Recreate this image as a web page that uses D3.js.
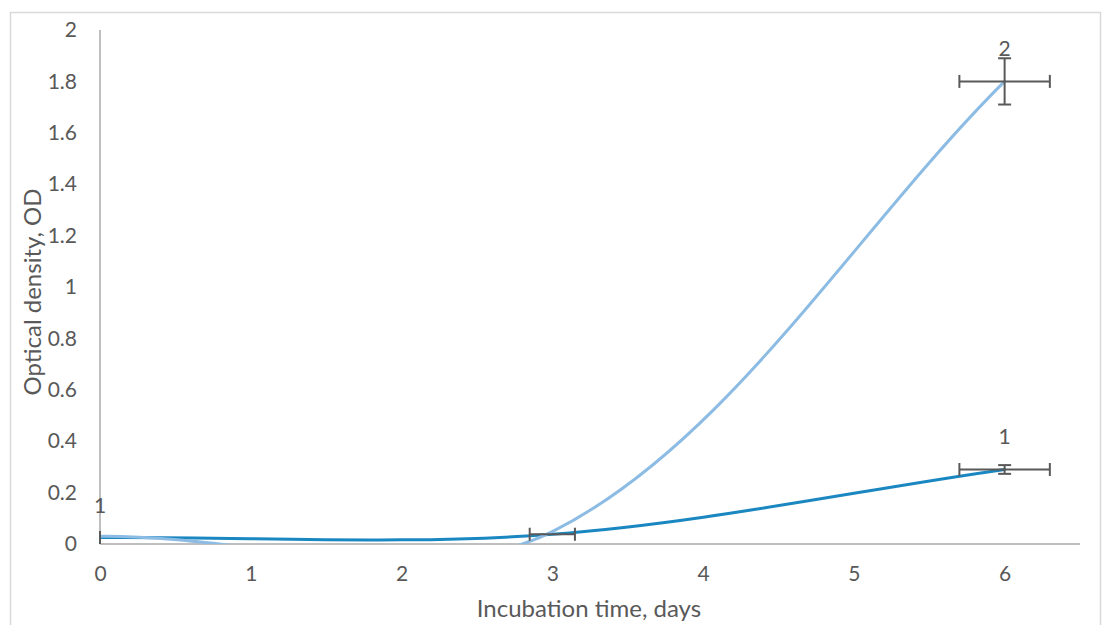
<!DOCTYPE html>
<html>
<head>
<meta charset="utf-8">
<script src="https://cdn.jsdelivr.net/npm/d3@7"></script>
<style>
  html, body { margin: 0; padding: 0; background: #fff; }
  svg { display: block; font-family: Lato, "Open Sans", sans-serif; }
</style>
</head>
<body>
<svg id="chart" width="1102" height="625"></svg>
<script>
// ---- data ----
const days = [0, 3, 6];
const series1 = [0.025, 0.038, 0.29];
const series2 = [0.03, 0.048, 1.8];
const errX1 = [0, 0.15, 0.3];
const errY1 = [null, null, 0.017];
const errX2 = [null, null, 0.3];
const errY2 = [null, null, 0.09];
const labels1 = ["1", null, "1"];
const labels2 = [null, null, "2"];
const xTicks = [0, 1, 2, 3, 4, 5, 6];
const yTicks = [0, 0.2, 0.4, 0.6, 0.8, 1, 1.2, 1.4, 1.6, 1.8, 2];
const xTitle = "Incubation time, days";
const yTitle = "Optical density, OD";

// ---- Excel-like smoothing curve ----
function ExcelSmooth(context) { this._context = context; }
ExcelSmooth.prototype = {
  areaStart() {}, areaEnd() {},
  lineStart() { this._pts = []; },
  point(px, py) { this._pts.push([+px, +py]); },
  lineEnd() {
    const p = this._pts, n = p.length, c = this._context;
    if (!n) return;
    c.moveTo(p[0][0], p[0][1]);
    if (n === 1) return;
    const d = (a, b) => Math.hypot(b[0] - a[0], b[1] - a[1]);
    for (let i = 0; i < n - 1; i++) {
      const p0 = p[Math.max(i - 1, 0)], p1 = p[i], p2 = p[i + 1], p3 = p[Math.min(i + 2, n - 1)];
      const d01 = d(p0, p1), d12 = d(p1, p2), d23 = d(p2, p3);
      const f1 = d12 / (d01 + d12) / 3, f2 = d12 / (d12 + d23) / 3;
      c.bezierCurveTo(
        p1[0] + (p2[0] - p0[0]) * f1, p1[1] + (p2[1] - p0[1]) * f1,
        p2[0] - (p3[0] - p1[0]) * f2, p2[1] - (p3[1] - p1[1]) * f2,
        p2[0], p2[1]);
    }
  }
};
const excelCurve = ctx => new ExcelSmooth(ctx);

// ---- layout ----
const svg = d3.select("#chart");
const plotL = 100, plotR = 1080, plotT = 30, plotB = 544;
const x = d3.scaleLinear().domain([0, 6.5]).range([plotL, plotR]);
const y = d3.scaleLinear().domain([0, 2]).range([plotB, plotT]);

const textColor = "#595959";
const axisColor = "#bfbfbf";
const tickFont = 21;
const titleFont = 24;

// chart border
svg.append("rect")
  .attr("x", 10.5).attr("y", 12.5)
  .attr("width", 1090).attr("height", 640)
  .attr("fill", "none").attr("stroke", "#d9d9d9").attr("stroke-width", 1.5);

svg.append("defs").append("clipPath").attr("id", "plotClip")
  .append("rect").attr("x", plotL).attr("y", plotT - 20)
  .attr("width", plotR - plotL + 10).attr("height", plotB - plotT + 20);

// axes
const xAxis = d3.axisBottom(x).tickValues(xTicks).tickSize(0).tickPadding(22)
  .tickFormat(d3.format("d"));
const gx = svg.append("g").attr("transform", `translate(0,${plotB})`).call(xAxis);
gx.select(".domain").attr("stroke", axisColor).attr("stroke-width", 2)
  .attr("d", `M${plotL},0H${plotR}`);
gx.selectAll("text").attr("fill", textColor).attr("font-size", tickFont)
  .attr("font-family", "Lato, 'Open Sans', sans-serif");

const yAxis = d3.axisLeft(y).tickValues(yTicks).tickSize(0).tickPadding(23)
  .tickFormat(d => d3.format("~g")(d));
const gy = svg.append("g").attr("transform", `translate(${plotL},0)`).call(yAxis);
gy.select(".domain").attr("stroke", axisColor).attr("stroke-width", 2)
  .attr("d", `M0,${plotT}V${plotB}`);
gy.selectAll("text").attr("fill", textColor).attr("font-size", tickFont)
  .attr("font-family", "Lato, 'Open Sans', sans-serif");

// axis titles
svg.append("text").attr("x", 589).attr("y", 617)
  .attr("text-anchor", "middle").attr("fill", textColor).attr("font-size", titleFont)
  .text(xTitle);
svg.append("text")
  .attr("transform", `translate(41,292) rotate(-90)`)
  .attr("text-anchor", "middle").attr("fill", textColor).attr("font-size", titleFont)
  .text(yTitle);

// lines
const line = d3.line().x(d => x(d[0])).y(d => y(d[1])).curve(excelCurve);
const plot = svg.append("g").attr("clip-path", "url(#plotClip)");
const seriesDefs = [
  { vals: series1, color: "#1b87c1", ex: errX1, ey: errY1, labels: labels1 },
  { vals: series2, color: "#8cbce4", ex: errX2, ey: errY2, labels: labels2 }
];
seriesDefs.forEach(s => {
  plot.append("path")
    .datum(days.map((d, i) => [d, s.vals[i]]))
    .attr("fill", "none").attr("stroke", s.color)
    .attr("stroke-width", 3).attr("stroke-linecap", "round")
    .attr("d", line);
});

// error bars
const eb = svg.append("g").attr("stroke", "#595959").attr("stroke-width", 2).attr("fill", "none");
const cap = 6.5;
seriesDefs.forEach(s => {
  days.forEach((d, i) => {
    const v = s.vals[i];
    if (s.ex[i] !== null) {
      const x0 = x(d - s.ex[i]), x1 = x(d + s.ex[i]), yy = y(v);
      eb.append("line").attr("x1", x0).attr("x2", x1).attr("y1", yy).attr("y2", yy);
      eb.append("line").attr("x1", x0).attr("x2", x0).attr("y1", yy - cap).attr("y2", yy + cap);
      eb.append("line").attr("x1", x1).attr("x2", x1).attr("y1", yy - cap).attr("y2", yy + cap);
    }
    if (s.ey[i] !== null) {
      const y0 = y(v - s.ey[i]), y1 = y(v + s.ey[i]), xx = x(d);
      eb.append("line").attr("x1", xx).attr("x2", xx).attr("y1", y0).attr("y2", y1);
      eb.append("line").attr("x1", xx - cap).attr("x2", xx + cap).attr("y1", y0).attr("y2", y0);
      eb.append("line").attr("x1", xx - cap).attr("x2", xx + cap).attr("y1", y1).attr("y2", y1);
    }
  });
});

// data labels
seriesDefs.forEach(s => {
  days.forEach((d, i) => {
    if (s.labels[i] === null) return;
    svg.append("text")
      .attr("x", x(d)).attr("y", y(s.vals[i]) - 25)
      .attr("text-anchor", "middle").attr("fill", "#595959").attr("font-size", tickFont)
      .text(s.labels[i]);
  });
});
</script>
</body>
</html>
